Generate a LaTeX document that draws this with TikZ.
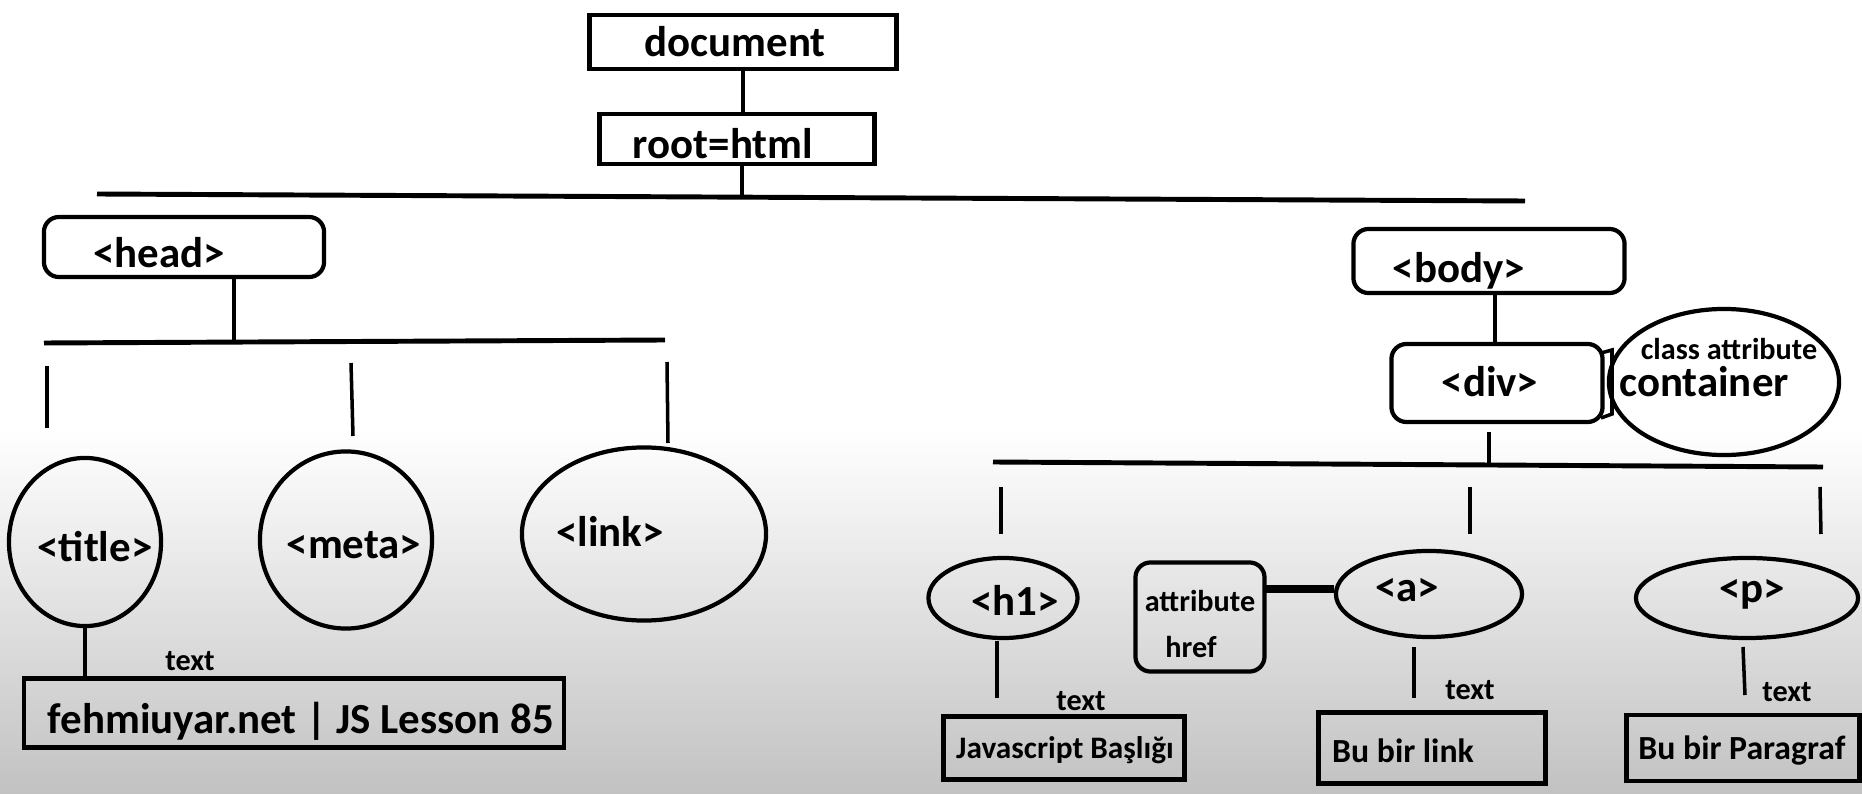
\documentclass[tikz,border=0pt]{standalone}
\usepackage{fontspec}
\setmainfont{Carlito}
\usetikzlibrary{shapes.geometric}

\begin{document}
\begin{tikzpicture}[x=0.01cm,y=-0.01cm,
  big/.style={font=\fontsize{12.2}{14}\selectfont\bfseries, inner sep=0pt},
  mid/.style={font=\fontsize{9.6}{11}\selectfont\bfseries, inner sep=0pt},
  small/.style={font=\fontsize{8.6}{10}\selectfont\bfseries, inner sep=0pt},
  sqbox/.style={draw, line width=1.2pt, inner sep=0pt},
  rbox/.style={sqbox, rounded corners=0.15cm},
  bubble/.style={draw, ellipse, line width=1.2pt, inner sep=0pt},
  bus/.style={line width=1.4pt},
  drop/.style={line width=1pt}]

  \useasboundingbox (0,0) rectangle (1862,794);
  \fill[white] (0,0) rectangle (1862,430);
  \shade[top color=white, bottom color=gray!48] (0,430) rectangle (1862,794);

  % document and root
  \node[sqbox, minimum width=3.07cm, minimum height=0.54cm] (doc) at (743,42) {};
  \node[big] (doctxt) at (735,42) {document};
  \node[sqbox, minimum width=2.75cm, minimum height=0.50cm] (root) at (737,139) {};
  \node[big] (roottxt) at (723,144) {root=html};
  \draw[drop] (doc.south) -- (doc.south |- root.north);
  \coordinate (topbus) at (742,197);
  \draw[drop] (topbus |- root.south) -- (topbus);
  \draw[bus] (97,194) -- (1525,201);

  % head side
  \node[rbox, minimum width=2.80cm, minimum height=0.60cm] (head) at (184,247) {};
  \node[big] (headtxt) at (159,253) {<head>};
  \coordinate (headbus) at (234,342);
  \draw[drop] (headbus |- head.south) -- (headbus);
  \draw[bus] (44,343) -- (665,340);
  \draw[drop] (47,366) -- (47,428);
  \draw[drop] (351,363) -- (353,436);
  \draw[drop] (667,362) -- (668,443);

  \node[bubble, minimum width=1.52cm, minimum height=1.68cm] (title) at (85,542) {};
  \node[big] (titletxt) at (95,547) {<title>};
  \node[bubble, minimum width=1.72cm, minimum height=1.77cm] (meta) at (346,540) {};
  \node[big] (metatxt) at (354,545) {<meta>};
  \node[bubble, minimum width=2.44cm, minimum height=1.73cm] (link) at (644,534) {};
  \node[big] (linktxt) at (610,531) {<link>};

  \node[sqbox, minimum width=5.40cm, minimum height=0.69cm] (site) at (294,713) {};
  \node[big] (sitetxt) at (301,721) {fehmiuyar.net | JS Lesson 85};
  \draw[drop] (title.south) -- (title.south |- site.north);
  \node[small] (titlelbl) at (190,661) {text};

  % body side
  \node[rbox, minimum width=2.71cm, minimum height=0.64cm] (body) at (1489,261) {};
  \node[big] (bodytxt) at (1459,271) {<body>};
  \node[rbox, minimum width=2.11cm, minimum height=0.78cm] (div) at (1497,383) {};
  \node[big] (divtxt) at (1490,382) {<div>};
  \coordinate (bodydiv) at (1495,300);
  \draw[drop] (bodydiv |- body.south) -- (bodydiv |- div.north);
  \node[bubble, minimum width=2.30cm, minimum height=1.46cm] (cls) at (1724,382) {};
  \node[small] (clstxt) at (1729,349) {class attribute};
  \node[big] (clsname) at (1704,382) {container};
  \draw[drop] (1601,353) -- (1612,350) -- (1612,414) -- (1601,418);
  \coordinate (divbus) at (1489,463);
  \draw[drop] (divbus |- div.south) ++(0,8) -- (divbus);
  \draw[bus] (993,462) -- (1823,467);
  \draw[drop] (1001,487) -- (1001,534);
  \draw[drop] (1470,487) -- (1470,534);
  \draw[drop] (1820,487) -- (1821,534);

  \node[bubble, minimum width=1.49cm, minimum height=0.80cm] (h1) at (1003,598) {};
  \node[big] (h1txt) at (1015,600) {<h1>};
  \node[rbox, minimum width=1.29cm, minimum height=1.09cm] (attr) at (1200,617) {};
  \node[small] (attrtxt) at (1200,601) {attribute};
  \node[small] (hreftxt) at (1191,647) {href};
  \node[bubble, minimum width=1.86cm, minimum height=0.86cm] (a) at (1429,594) {};
  \node[big] (atxt) at (1407,590) {<a>};
  \coordinate (hrefjoin) at (1265,589);
  \draw[line width=2.3pt] (hrefjoin) -- (hrefjoin -| a.west);
  \node[bubble, minimum width=2.22cm, minimum height=0.80cm] (p) at (1747,598) {};
  \node[big] (ptxt) at (1752,594) {<p>};

  \node[sqbox, minimum width=2.41cm, minimum height=0.63cm] (head1) at (1064,748) {};
  \node[small, font=\fontsize{8.9}{10}\selectfont\bfseries] (head1txt) at (1065,750) {Javascript Başlığı};
  \node[sqbox, minimum width=2.27cm, minimum height=0.71cm] (anchor) at (1432,748) {};
  \node[mid] (anchortxt) at (1403,751) {Bu bir link};
  \node[sqbox, minimum width=2.33cm, minimum height=0.66cm] (para) at (1743,748) {};
  \node[mid] (paratxt) at (1742,751) {Bu bir Paragraf};

  \draw[drop] (997,641) -- (997,698);
  \node[small] (h1lbl) at (1081,701) {text};
  \draw[drop] (1414,647) -- (1414,698);
  \node[small] (albl) at (1470,690) {text};
  \draw[drop] (1743,647) -- (1745,695);
  \node[small] (plbl) at (1787,692) {text};
\end{tikzpicture}
\end{document}
